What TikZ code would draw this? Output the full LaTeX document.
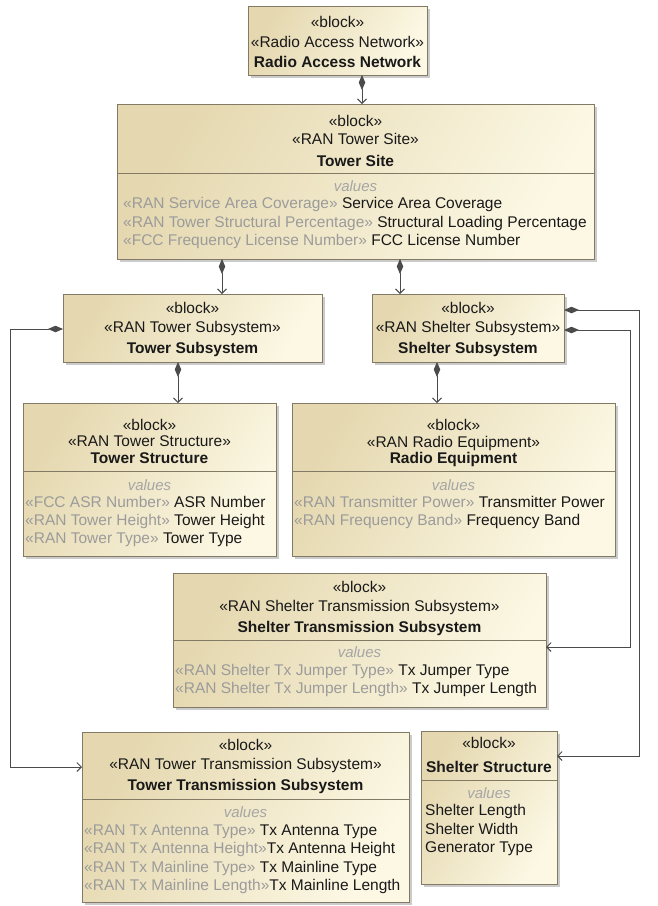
\documentclass[tikz,border=0pt]{standalone}
\usepackage{fontspec}
\setmainfont{Liberation Sans}
\usetikzlibrary{arrows.meta,shadows}
\definecolor{boxA}{RGB}{229,216,176}
\definecolor{boxB}{RGB}{252,248,228}
\definecolor{bordc}{RGB}{130,122,100}
\definecolor{linec}{RGB}{75,75,75}
\definecolor{stgray}{RGB}{155,155,155}
\definecolor{valgray}{RGB}{165,165,165}
\newcommand\stereo[1]{\textcolor{stgray}{#1}}
\begin{document}
\begin{tikzpicture}[x=1pt,y=-1pt,
 blk/.style={draw=bordc, line width=0.8pt, top color=boxA, bottom color=boxB, shading angle=60,
   drop shadow={shadow xshift=2.5pt, shadow yshift=-2.5pt, fill=black!40, opacity=0.5},
   anchor=north west, inner sep=0pt, outer sep=0pt},
 sepl/.style={draw=bordc, line width=0.8pt},
 tx/.style={font=\fontsize{15.5}{18}\selectfont, inner sep=0pt, anchor=base, text=black!90},
 txb/.style={tx, font=\fontsize{15.5}{18}\selectfont\bfseries},
 vl/.style={font=\fontsize{15}{18}\selectfont\itshape, text=valgray, inner sep=0pt, anchor=base},
 pl/.style={tx, anchor=base west},
 conn/.style={draw=linec, line width=0.9pt, {Diamond[length=15pt,width=6.5pt]}-{Straight Barb[length=4.5pt,width=9pt]}}]
\useasboundingbox[fill=white] (0,0) rectangle (658,906);

% Radio Access Network
\node[blk, minimum width=179pt, minimum height=69pt] (ran) at (248,6) {};
\node[tx] (ran1) at (337.5,27) {«block»};
\node[tx] (ran2) at (337.5,47) {«Radio Access Network»};
\node[txb] (ran3) at (337.5,67) {Radio Access Network};

% Tower Site
\node[blk, minimum width=477pt, minimum height=155pt] (site) at (117,104) {};
\node[tx] (site1) at (355.5,126) {«block»};
\node[tx] (site2) at (355.5,144) {«RAN Tower Site»};
\node[txb] (site3) at (355.5,166) {Tower Site};
\draw[sepl] (117,173) -- (594,173);
\node[vl] (site4) at (355.5,191) {values};
\node[pl] (site5) at (123,208) {\stereo{«RAN Service Area Coverage»} Service Area Coverage};
\node[pl] (site6) at (123,227) {\stereo{«RAN Tower Structural Percentage»} Structural Loading Percentage};
\node[pl] (site7) at (123,245) {\stereo{«FCC Frequency License Number»} FCC License Number};

% Tower Subsystem
\node[blk, minimum width=259pt, minimum height=68pt] (towsub) at (63,294) {};
\node[tx] (towsub1) at (192.5,313) {«block»};
\node[tx] (towsub2) at (192.5,332) {«RAN Tower Subsystem»};
\node[txb] (towsub3) at (192.5,353) {Tower Subsystem};

% Shelter Subsystem
\node[blk, minimum width=192pt, minimum height=68pt] (shelsub) at (372,294) {};
\node[tx] (shelsub1) at (468,313) {«block»};
\node[tx] (shelsub2) at (468,332) {«RAN Shelter Subsystem»};
\node[txb] (shelsub3) at (468,353) {Shelter Subsystem};

% Tower Structure
\node[blk, minimum width=253pt, minimum height=153pt] (towstruct) at (23,403) {};
\node[tx] (ts1) at (149.5,430) {«block»};
\node[tx] (ts2) at (149.5,446) {«RAN Tower Structure»};
\node[txb] (ts3) at (149.5,463) {Tower Structure};
\draw[sepl] (23,471) -- (276,471);
\node[vl] (ts4) at (149.5,490) {values};
\node[pl] (ts5) at (25,507) {\stereo{«FCC ASR Number»} ASR Number};
\node[pl] (ts6) at (25,525) {\stereo{«RAN Tower Height»} Tower Height};
\node[pl] (ts7) at (25,543) {\stereo{«RAN Tower Type»} Tower Type};

% Radio Equipment
\node[blk, minimum width=323pt, minimum height=153pt] (radio) at (292,403) {};
\node[tx] (re1) at (453.5,430) {«block»};
\node[tx] (re2) at (453.5,447) {«RAN Radio Equipment»};
\node[txb] (re3) at (453.5,463) {Radio Equipment};
\draw[sepl] (292,471) -- (615,471);
\node[vl] (re4) at (453.5,490) {values};
\node[pl] (re5) at (294,507) {\stereo{«RAN Transmitter Power»} Transmitter Power};
\node[pl] (re6) at (294,525) {\stereo{«RAN Frequency Band»} Frequency Band};

% Shelter Transmission Subsystem
\node[blk, minimum width=373pt, minimum height=134pt] (sheltrans) at (173,573) {};
\node[tx] (st1) at (359.5,592) {«block»};
\node[tx] (st2) at (359.5,611) {«RAN Shelter Transmission Subsystem»};
\node[txb] (st3) at (359.5,632) {Shelter Transmission Subsystem};
\draw[sepl] (173,640) -- (546,640);
\node[vl] (st4) at (359.5,657) {values};
\node[pl] (st5) at (175,675) {\stereo{«RAN Shelter Tx Jumper Type»} Tx Jumper Type};
\node[pl] (st6) at (175,693) {\stereo{«RAN Shelter Tx Jumper Length»} Tx Jumper Length};

% Tower Transmission Subsystem
\node[blk, minimum width=327pt, minimum height=170pt] (towtrans) at (82,732) {};
\node[tx] (tt1) at (245.5,750) {«block»};
\node[tx] (tt2) at (245.5,769) {«RAN Tower Transmission Subsystem»};
\node[txb] (tt3) at (245.5,790) {Tower Transmission Subsystem};
\draw[sepl] (82,799) -- (409,799);
\node[vl] (tt4) at (245.5,817) {values};
\node[pl] (tt5) at (84,835) {\stereo{«RAN Tx Antenna Type»} Tx Antenna Type};
\node[pl] (tt6) at (84,853) {\stereo{«RAN Tx Antenna Height»}Tx Antenna Height};
\node[pl] (tt7) at (84,872) {\stereo{«RAN Tx Mainline Type»} Tx Mainline Type};
\node[pl] (tt8) at (84,890) {\stereo{«RAN Tx Mainline Length»}Tx Mainline Length};

% Shelter Structure
\node[blk, minimum width=136pt, minimum height=153pt] (shelstruct) at (421,731) {};
\node[tx] (ss1) at (489,748) {«block»};
\node[txb] (ss2) at (489,772) {Shelter Structure};
\draw[sepl] (421,780) -- (557,780);
\node[vl] (ss3) at (489,798) {values};
\node[pl] (ss4) at (425,815) {Shelter Length};
\node[pl] (ss5) at (425,834) {Shelter Width};
\node[pl] (ss6) at (425,852) {Generator Type};

% connectors
\coordinate (x362) at (362,0);
\coordinate (x222) at (222,0);
\coordinate (x400) at (400,0);
\coordinate (x178) at (178,0);
\coordinate (x437) at (437,0);
\draw[conn] (ran.south -| x362) -- (site.north -| x362);
\draw[conn] (site.south -| x222) -- (towsub.north -| x222);
\draw[conn] (site.south -| x400) -- (shelsub.north -| x400);
\draw[conn] (towsub.south -| x178) -- (towstruct.north -| x178);
\draw[conn] (shelsub.south -| x437) -- (radio.north -| x437);
\coordinate (b1) at (10,329);
\coordinate (b2) at (10,767);
\draw[conn] (towsub.west |- b1) -- (b1) -- (b2) -- (towtrans.west |- b2);
\coordinate (b3) at (639,310);
\coordinate (b4) at (639,756);
\draw[conn] (shelsub.east |- b3) -- (b3) -- (b4) -- (shelstruct.east |- b4);
\coordinate (b5) at (630,330);
\coordinate (b6) at (630,647);
\draw[conn] (shelsub.east |- b5) -- (b5) -- (b6) -- (sheltrans.east |- b6);
\end{tikzpicture}
\end{document}
